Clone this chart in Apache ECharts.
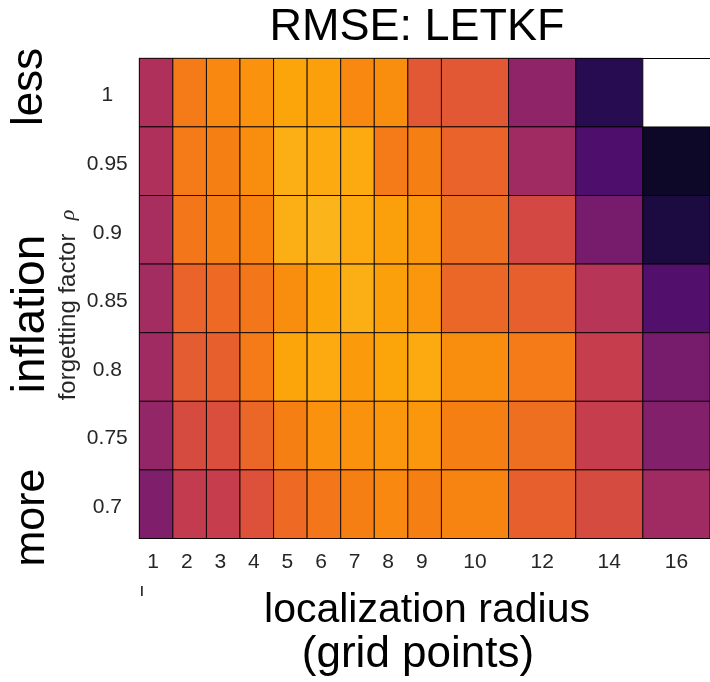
<!DOCTYPE html>
<html><head><meta charset="utf-8">
<script src="https://cdn.jsdelivr.net/npm/echarts@6/dist/echarts.min.js"></script>
<style>html,body{margin:0;padding:0;background:#fff}#c{width:710px;height:682px}</style>
</head><body><div id="c"></div>
<script>
// ---- data ----
const radiusLabels = ['1','2','3','4','5','6','7','8','9','10','12','14','16'];
const columnEdges = [0.5,1.5,2.5,3.5,4.5,5.5,6.5,7.5,8.5,9.5,11.5,13.5,15.5,17.5];
const rhoValues = [1, 0.95, 0.9, 0.85, 0.8, 0.75, 0.7];
const rhoLabels = ['1','0.95','0.9','0.85','0.8','0.75','0.7'];
const rhoStep = 0.05;
// colour level on the inferno scale (0 = dark / large RMSE, 1 = bright / small RMSE); null = diverged
const levelRho100 = [0.47,0.71,0.74,0.76,0.80,0.79,0.74,0.75,0.62,0.62,0.39,0.14,null];
const levelRho095 = [0.47,0.71,0.72,0.75,0.82,0.81,0.81,0.71,0.72,0.65,0.43,0.23,0.07];
const levelRho090 = [0.45,0.70,0.72,0.73,0.82,0.83,0.81,0.79,0.77,0.68,0.57,0.33,0.11];
const levelRho085 = [0.44,0.65,0.67,0.70,0.75,0.80,0.82,0.79,0.77,0.66,0.64,0.49,0.24];
const levelRho080 = [0.43,0.63,0.64,0.71,0.80,0.81,0.78,0.80,0.81,0.75,0.71,0.53,0.33];
const levelRho075 = [0.40,0.58,0.59,0.66,0.72,0.76,0.76,0.77,0.77,0.72,0.68,0.53,0.36];
const levelRho070 = [0.35,0.52,0.53,0.60,0.67,0.70,0.72,0.74,0.72,0.73,0.64,0.58,0.43];
const levelRows = [levelRho100, levelRho095, levelRho090, levelRho085, levelRho080, levelRho075, levelRho070];

const inferno = ['#000004','#0c0826','#240c4f','#420a68','#5d126e','#781c6d','#932667','#ae305c',
  '#c73e4c','#dd513a','#ed6925','#f8850f','#fca50a','#fac62d','#f2e661','#fcffa4'];

// ---- build ----
const cells = [];
levelRows.forEach((row, r) => row.forEach((v, c) => {
  if (v !== null) cells.push([c, rhoValues[r], v]);
}));
const colCenters = radiusLabels.map((_, i) => (columnEdges[i] + columnEdges[i + 1]) / 2);
// labels behave like a fixed-width (2 character) text block, as in the original figure
const xLabelFor = v => { const i = colCenters.findIndex(c => Math.abs(c - v) < 1e-6); return i < 0 ? '' : radiusLabels[i].padEnd(2, ' '); };
const yLabelFor = v => { const i = rhoValues.findIndex(c => Math.abs(c - v) < 1e-6); return i < 0 ? '' : '{t|' + rhoLabels[i] + '}'; };

const FONT = '"Liberation Sans", Arial, Helvetica, sans-serif';
const chart = echarts.init(document.getElementById('c'), null, {renderer: 'canvas'});
chart.setOption({
  animation: false,
  backgroundColor: '#fff',
  grid: {left: 139.3, top: 58.3, right: -7.3, height: 480.2},
  xAxis: [{
    type: 'value', min: columnEdges[0], max: columnEdges[columnEdges.length - 1], position: 'bottom',
    axisLine: {show: true, onZero: false, lineStyle: {color: '#000', width: 1}},
    axisTick: {show: false}, splitLine: {show: false},
    axisLabel: {customValues: colCenters, formatter: xLabelFor, fontSize: 21, color: '#262626', margin: 13, fontFamily: FONT}
  }, {
    type: 'value', min: columnEdges[0], max: columnEdges[columnEdges.length - 1], position: 'top',
    axisLine: {show: true, onZero: false, lineStyle: {color: '#000', width: 1}},
    axisTick: {show: false}, splitLine: {show: false}, axisLabel: {show: false}
  }],
  yAxis: {
    type: 'value', min: rhoValues[rhoValues.length - 1] - rhoStep / 2, max: rhoValues[0] + rhoStep / 2,
    axisLine: {show: true, onZero: false, lineStyle: {color: '#000', width: 1}},
    axisTick: {show: false}, splitLine: {show: false},
    axisLabel: {customValues: rhoValues, formatter: yLabelFor, fontSize: 21, color: '#262626', margin: 32, align: 'center', fontFamily: FONT,
      rich: {t: {fontSize: 21, color: '#262626', fontFamily: FONT, padding: [6, 0, 0, 0]}}}
  },
  visualMap: {type: 'continuous', show: false, min: 0, max: 1, dimension: 2, seriesIndex: 0, inRange: {color: inferno}},
  series: [{
    type: 'custom', data: cells, encode: {x: 0, y: 1},
    renderItem: function (params, api) {
      const c = api.value(0), rho = api.value(1);
      const p0 = api.coord([columnEdges[c], rho + rhoStep / 2]);
      const p1 = api.coord([columnEdges[c + 1], rho - rhoStep / 2]);
      return {type: 'rect', shape: {x: p0[0], y: p0[1], width: p1[0] - p0[0], height: p1[1] - p0[1]},
        style: {fill: api.visual('color'), stroke: 'rgba(0,0,0,0.85)', lineWidth: 1}};
    }
  }],
  graphic: [
    {type: 'text', x: 417, y: 27.5, style: {text: 'RMSE: LETKF', font: '45px ' + FONT, fill: '#000', align: 'center', verticalAlign: 'middle'}},
    {type: 'text', x: 427, y: 610.5, style: {text: 'localization radius', font: '41px ' + FONT, fill: '#000', align: 'center', verticalAlign: 'middle'}},
    {type: 'text', x: 418, y: 655, style: {text: '(grid points)', font: '44px ' + FONT, fill: '#000', align: 'center', verticalAlign: 'middle'}},
    {type: 'text', x: 30, y: 87, rotation: Math.PI / 2, style: {text: 'less', font: '44px ' + FONT, fill: '#000', align: 'center', verticalAlign: 'middle'}},
    {type: 'text', x: 31, y: 314, rotation: Math.PI / 2, style: {text: 'inflation', font: '46px ' + FONT, fill: '#000', align: 'center', verticalAlign: 'middle'}},
    {type: 'text', x: 32, y: 517.5, rotation: Math.PI / 2, style: {text: 'more', font: '43px ' + FONT, fill: '#000', align: 'center', verticalAlign: 'middle'}},
    {type: 'text', x: 68, y: 305, rotation: Math.PI / 2, style: {
      text: 'forgetting factor  {r|ρ}', font: '24px ' + FONT, fill: '#262626', align: 'center', verticalAlign: 'middle',
      rich: {r: {fontFamily: '"Liberation Serif", "DejaVu Serif", serif', fontStyle: 'italic', fontSize: 22, fill: '#262626'}}}},
    {type: 'text', x: 142, y: 591, style: {text: 'ı', font: '19px ' + FONT, fill: '#262626', align: 'center', verticalAlign: 'middle'}}
  ]
});
</script></body></html>
